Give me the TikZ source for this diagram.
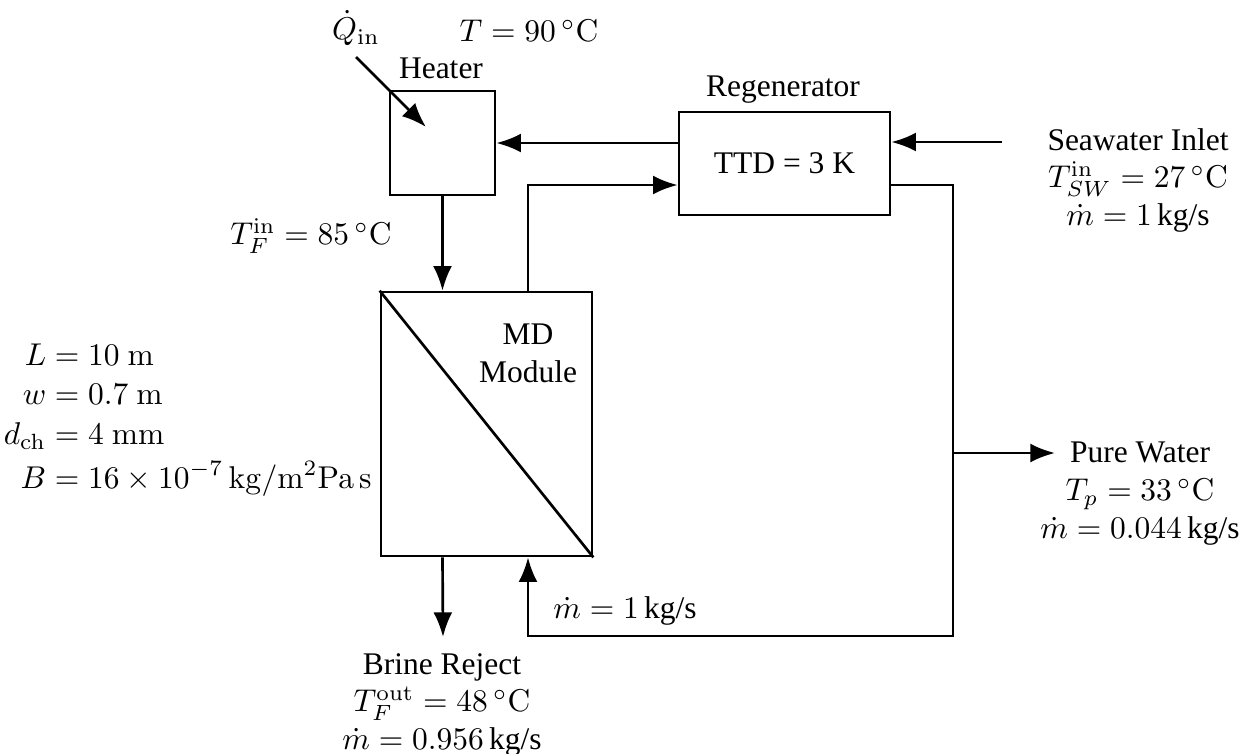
\documentclass[tikz,border=0pt]{standalone}
\usepackage{amsmath}
\usepackage[no-math]{fontspec}
\setmainfont{Liberation Serif}
\usetikzlibrary{arrows.meta}
\setlength{\jot}{0.6pt}
\begin{document}
\begin{tikzpicture}[x=0.3175pt,y=-0.3175pt,
  line width=0.85pt,
  box/.style={draw, inner sep=0pt},
  arr/.style={-{Latex[length=7.8pt,width=6pt]}},
  lbl/.style={inner sep=0pt, align=center}]
\useasboundingbox (0,0) rectangle (1242,753);

% boxes
\node[box, minimum width=105*0.3175pt, minimum height=104*0.3175pt] (heater) at (442.5,143) {};
\node[box, minimum width=211*0.3175pt, minimum height=103*0.3175pt] (regen) at (784.5,163.5) {TTD = 3 K};
\node[box, minimum width=211*0.3175pt, minimum height=264*0.3175pt] (md) at (486.5,424) {};
\draw (md.north west) -- (md.south east);

% labels
\node[lbl] (heaterlbl) at (441,68) {Heater};
\node[lbl] (tset) at (529,31) {$T = 90\,^\circ\mathrm{C}$};
\node[lbl] (qin) at (356,28) {$\dot{Q}_{\mathrm{in}}$};
\node[lbl] (regenlbl) at (783,90) {Regenerator};
\node[lbl] (mdlbl) at (528,353) {MD\\Module};
\node[lbl, anchor=east] (tfin) at (393,236) {$T_F^{\mathrm{in}} = 85\,^\circ\mathrm{C}$};
\node[lbl, anchor=east] (params) at (373,419) {$\begin{aligned}
  L &= 10\ \mathrm{m}\\
  w &= 0.7\ \mathrm{m}\\
  d_{\mathrm{ch}} &= 4\ \mathrm{mm}\\
  B &= 16\times10^{-7}\,\mathrm{kg/m^2Pa\,s}
\end{aligned}$};
\node[lbl, anchor=north] (swlbl) at (1138,127) {Seawater Inlet\\$T_{SW}^{\mathrm{in}} = 27\,^\circ\mathrm{C}$\\$\dot{m} = 1\,\text{kg/s}$};
\node[lbl, anchor=north] (pwlbl) at (1140,441) {Pure Water\\$T_p = 33\,^\circ\mathrm{C}$\\$\dot{m} = 0.044\,\text{kg/s}$};
\node[lbl, anchor=north] (brlbl) at (442,652) {Brine Reject\\$T_F^{\mathrm{out}} = 48\,^\circ\mathrm{C}$\\$\dot{m} = 0.956\,\text{kg/s}$};
\node[lbl] (mrec) at (625,611) {$\dot{m} = 1\,\text{kg/s}$};

% coordinates
\coordinate (swin) at (1002,142);
\coordinate (rjoin) at (528,185);
\coordinate (loop) at (953,636);
\coordinate (pwtee) at (953,453);
\coordinate (pwend) at (1055,453);
\coordinate (brend) at (443,637);
\coordinate (qs) at (356,57);
\coordinate (qe) at (426,127);

% connectors
\draw[arr] (regen.west |- heater.east) -- (heater.east);
\draw[arr] (swin) -- (swin -| regen.east);
\draw[arr] (heater.south) -- (heater.south |- md.north);
\draw[arr] (md.north -| rjoin) -- (rjoin) -- (rjoin -| regen.west);
\draw[arr] (regen.east |- rjoin) -| (loop) -| (md.south -| rjoin);
\draw[arr] (pwtee) -- (pwend);
\draw[arr] (md.south -| heater.south) -- (brend);
\draw[arr] (qs) -- (qe);
\end{tikzpicture}
\end{document}
